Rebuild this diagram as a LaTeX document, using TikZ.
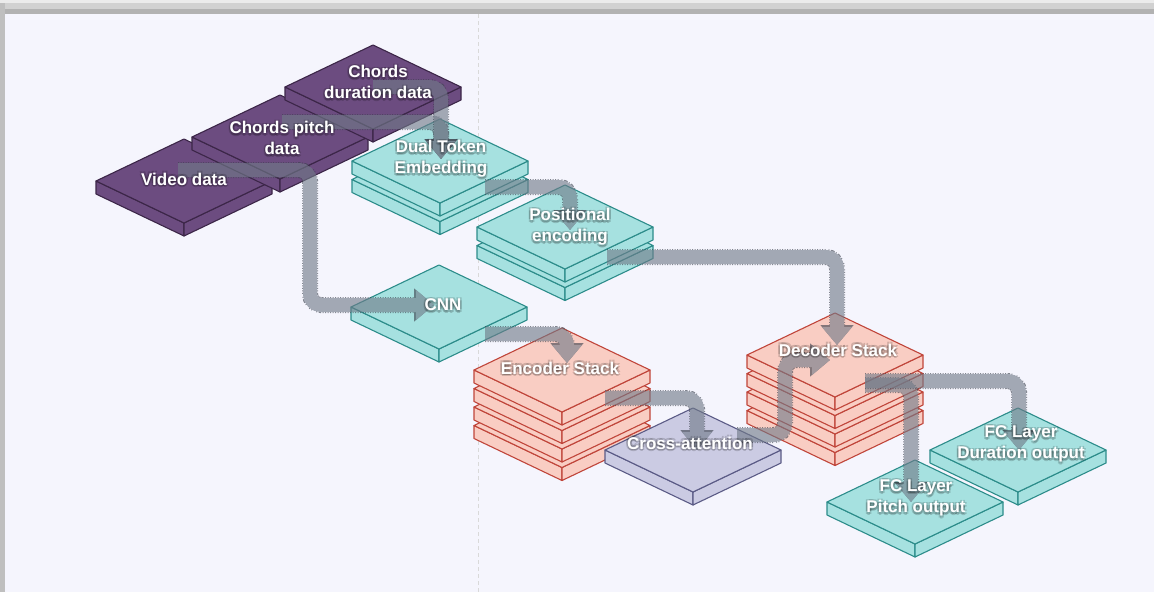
\documentclass[tikz,border=0pt]{standalone}
\usepackage{fontspec}
\setmainfont{Liberation Sans}
\usetikzlibrary{arrows.meta}

\definecolor{bgcol}{RGB}{245,245,253}
\definecolor{datafill}{RGB}{108,76,128}
\definecolor{dataedge}{RGB}{60,38,72}
\definecolor{tealfill}{RGB}{166,225,224}
\definecolor{tealedge}{RGB}{44,140,138}
\definecolor{stackfill}{RGB}{249,205,195}
\definecolor{stackedge}{RGB}{192,69,58}
\definecolor{attnfill}{RGB}{203,203,227}
\definecolor{attnedge}{RGB}{91,91,134}
\definecolor{flowcol}{RGB}{112,122,136}
\definecolor{flowline}{RGB}{60,66,78}

\pgfdeclarelayer{front}
\pgfsetlayers{main,front}

\tikzset{
  dataslab/.style={fill=datafill,draw=dataedge,line width=1.1pt,line join=round},
  tealslab/.style={fill=tealfill,draw=tealedge,line width=1.1pt,line join=round},
  stackslab/.style={fill=stackfill,draw=stackedge,line width=1.1pt,line join=round},
  attnslab/.style={fill=attnfill,draw=attnedge,line width=1.1pt,line join=round},
  lbl/.style={text=white,font=\bfseries\fontsize{17}{21}\selectfont,align=center,inner sep=0pt},
  flowrim/.style={draw=flowline,line width=16pt,dash pattern=on 1pt off 1.5pt,
    rounded corners=11pt,-{Triangle[length=20pt,width=32pt]}},
  flowbody/.style={draw=flowcol,line width=14pt,rounded corners=11pt,
    -{Triangle[length=18pt,width=29pt]}}
}

% one flat block, top face centred at (#1,#2)
\newcommand{\isoslab}[3]{%
  \filldraw[#3] (#1-88,#2) -- (#1,#2+42) -- (#1,#2+55) -- (#1-88,#2+13) -- cycle;
  \filldraw[#3] (#1,#2+42) -- (#1+88,#2) -- (#1+88,#2+13) -- (#1,#2+55) -- cycle;
  \filldraw[#3] (#1-88,#2) -- (#1,#2-42) -- (#1+88,#2) -- (#1,#2+42) -- cycle;}

% white label with a soft dark halo
\newcommand{\slablabel}[3]{%
  \foreach \dx/\dy in {1.5/1.5,-1.5/1.5,1.5/-1.5,-1.5/-1.5,0/2.5}
    \node[lbl,text=black,text opacity=.16] at ([shift={(\dx,\dy)}]#2) {#3};
  \node[lbl] (#1) at (#2) {#3};}

\newcommand{\flowarrow}[1]{%
  \begin{scope}[transparency group,opacity=.62]
    \draw[flowrim] #1;
    \draw[flowbody] #1;
  \end{scope}}

\begin{document}
\begin{tikzpicture}[x=1pt,y=-1pt]
  \useasboundingbox (0,0) rectangle (1154,592);
  \fill[bgcol] (0,0) rectangle (1154,592);
  \fill[black!8] (0,0) rectangle (1154,3);
  \fill[black!18] (0,3) rectangle (1154,9);
  \fill[black!30] (5,9) rectangle (1154,14);
  \fill[black!25] (0,3) rectangle (5,592);
  \draw[black!15,dash pattern=on 4pt off 3pt] (478,14) -- (478,592);

  % inputs
  \isoslab{184}{181}{dataslab}
  \isoslab{280}{137}{dataslab}
  \isoslab{373}{87}{dataslab}

  % embedding side
  \foreach \k in {1,0} \isoslab{440}{161+18.5*\k}{tealslab};
  \foreach \k in {1,0} \isoslab{565}{227+18.5*\k}{tealslab};
  \isoslab{439}{307}{tealslab}

  % transformer
  \foreach \k in {3,2,1,0} \isoslab{562}{370+18.5*\k}{stackslab};
  \isoslab{693}{450}{attnslab}
  \foreach \k in {3,2,1,0} \isoslab{835}{355+18.5*\k}{stackslab};
  \isoslab{1018}{450}{tealslab}
  \isoslab{915}{502}{tealslab}

  \begin{pgfonlayer}{front}
    \slablabel{duration}{378,82}{Chords\\duration data}
    \slablabel{pitch}{282,138}{Chords pitch\\data}
    \slablabel{video}{184,179}{Video data}
    \slablabel{embed}{441,159}{Dual Token\\Embedding}
    \slablabel{posenc}{570,227}{Positional\\encoding}
    \slablabel{cnn}{443,305}{CNN}
    \slablabel{encoder}{560,368}{Encoder Stack}
    \slablabel{xattn}{690,443}{Cross-attention}
    \slablabel{decoder}{838,350}{Decoder Stack}
    \slablabel{fcpitch}{916,498}{FC Layer\\Pitch output}
    \slablabel{fcdur}{1021,444}{FC Layer\\Duration output}
  \end{pgfonlayer}

  % data flow
  \flowarrow{([shift={(-6,-9)}]video.center) -| ([shift={(-133,0)}]cnn.center) -- ([shift={(-9,0)}]cnn.center)}
  \flowarrow{([shift={(0,-16)}]pitch.center) -| (embed.center)}
  \flowarrow{([shift={(-5,5)}]duration.center) -| (embed.center)}
  \flowarrow{([shift={(44,28)}]embed.center) -| ([shift={(0,3)}]posenc.center)}
  \flowarrow{([shift={(37,30)}]posenc.center) -| ([shift={(-1,-5)}]decoder.center)}
  \flowarrow{([shift={(42,29)}]cnn.center) -| ([shift={(7,-5)}]encoder.center)}
  \flowarrow{([shift={(45,30)}]encoder.center) -| ([shift={(7,7)}]xattn.center)}
  \flowarrow{([shift={(47,-8)}]xattn.center) -| ([shift={(-53,10)}]decoder.center) -- ([shift={(-8,10)}]decoder.center)}
  \flowarrow{([shift={(27,35)}]decoder.center) -| ([shift={(-5,4)}]fcpitch.center)}
  \flowarrow{([shift={(27,31)}]decoder.center) -| ([shift={(-2,6)}]fcdur.center)}
\end{tikzpicture}
\end{document}
